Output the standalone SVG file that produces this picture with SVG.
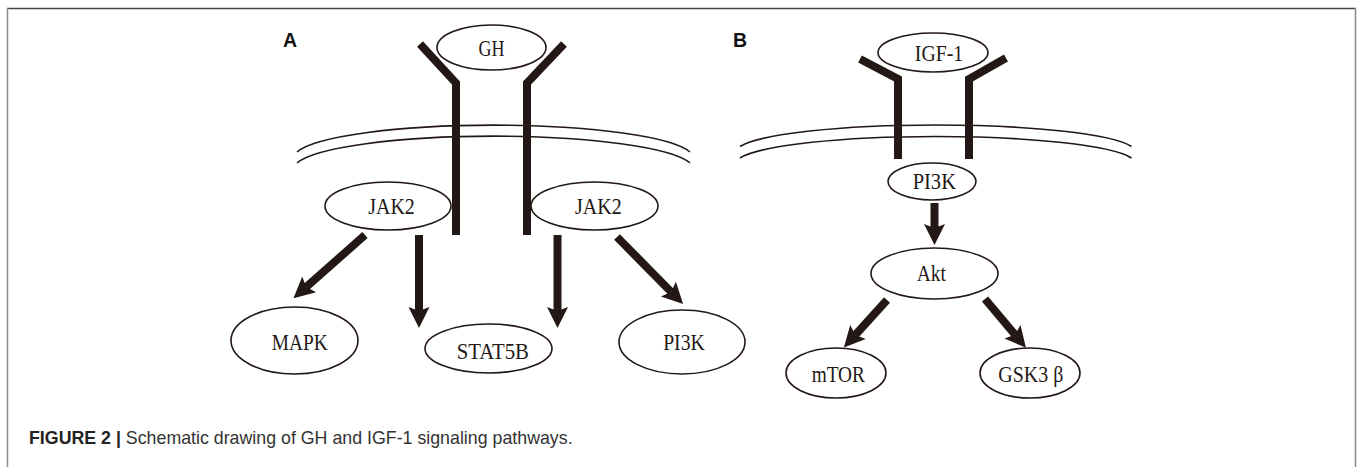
<svg xmlns="http://www.w3.org/2000/svg" width="1357" height="467" viewBox="0 0 1357 467">
<style>
.frame-top{stroke:#444;stroke-width:1.5;fill:none}
.frame-side{stroke:#8a8a8a;stroke-width:1.5;fill:none}
.mem{fill:none;stroke:#231815;stroke-width:1.6}
.rec{fill:none;stroke:#231815;stroke-width:8;stroke-linejoin:miter}
.node ellipse{fill:#fff;stroke:#231815;stroke-width:1.6}
.node text{font-family:"Liberation Serif","Times New Roman",serif;font-size:23.5px;fill:#231815;text-anchor:middle}
.arr{stroke:#231815;stroke-width:8;fill:none;marker-end:url(#ah)}
.panel{font-family:"Liberation Sans",Arial,sans-serif;font-weight:bold;font-size:19.5px;fill:#111}
.cap{font-family:"Liberation Sans",Arial,sans-serif;font-size:17.8px;fill:#333}
</style>
<defs>
<marker id="ah" markerUnits="userSpaceOnUse" markerWidth="26" markerHeight="26" viewBox="0 -13 26 26" refX="4" refY="0" orient="auto">
<path d="M0,-10.5 L21,0 L0,10.5 L4,0 Z" fill="#231815"/>
</marker>
</defs>
<rect x="0" y="0" width="1357" height="467" fill="#fff"/>
<line class="frame-top" x1="7" y1="8.5" x2="1356" y2="8.5"/>
<line class="frame-side" x1="7.5" y1="8" x2="7.5" y2="467"/>
<line class="frame-side" x1="1355.5" y1="8" x2="1355.5" y2="467"/>

<text class="panel" x="283" y="47">A</text>
<text class="panel" x="733" y="47">B</text>

<g id="membrane-A">
<path class="mem" d="M297,152 A200,33 0 0 1 690,152"/>
<path class="mem" d="M297,163 A200,33 0 0 1 690,163"/>
</g>
<g id="membrane-B">
<path class="mem" d="M740,146.5 A200,27 0 0 1 1131.5,146.5"/>
<path class="mem" d="M740,158 A200,27 0 0 1 1131.5,158"/>
</g>

<g id="receptor-GH">
<polyline class="rec" points="420,44 456,83 456,235"/>
<polyline class="rec" points="564,44 527,83 527,235"/>
</g>
<g id="receptor-IGF1">
<polyline class="rec" points="860,59 898,79 898,159"/>
<polyline class="rec" points="1006,58 969,79 969,159"/>
</g>

<g id="connectors">
<line class="arr" x1="365" y1="235" x2="306.2" y2="287.1"/>
<line class="arr" x1="419" y1="235" x2="419" y2="311"/>
<line class="arr" x1="557.5" y1="235" x2="557.5" y2="311"/>
<line class="arr" x1="617" y1="237" x2="671.2" y2="292"/>
<line class="arr" x1="934.5" y1="203" x2="934.5" y2="228"/>
<line class="arr" x1="887" y1="300" x2="855.3" y2="335"/>
<line class="arr" x1="985" y1="299" x2="1015" y2="334.7"/>
</g>

<g id="node-GH" class="node"><ellipse cx="491.5" cy="47.5" rx="54.5" ry="22.5"/><text x="491.5" y="55.5" textLength="26" lengthAdjust="spacingAndGlyphs">GH</text></g>
<g id="node-JAK2-left" class="node"><ellipse cx="388" cy="206" rx="63" ry="24"/><text x="391.5" y="213.5" textLength="46.7" lengthAdjust="spacingAndGlyphs">JAK2</text></g>
<g id="node-JAK2-right" class="node"><ellipse cx="594.5" cy="206" rx="63.5" ry="24"/><text x="598.3" y="213.5" textLength="46.7" lengthAdjust="spacingAndGlyphs">JAK2</text></g>
<g id="node-MAPK" class="node"><ellipse cx="294.5" cy="340.5" rx="63.5" ry="33.5"/><text x="299.7" y="349.5" textLength="56" lengthAdjust="spacingAndGlyphs">MAPK</text></g>
<g id="node-STAT5B" class="node"><ellipse cx="488.5" cy="348.5" rx="63.5" ry="24.5"/><text x="492.8" y="358.5" textLength="72.3" lengthAdjust="spacingAndGlyphs">STAT5B</text></g>
<g id="node-PI3K-A" class="node"><ellipse cx="682" cy="342" rx="63" ry="32"/><text x="684" y="349.5" textLength="41.7" lengthAdjust="spacingAndGlyphs">PI3K</text></g>

<g id="node-IGF1" class="node"><ellipse cx="933" cy="52.5" rx="55" ry="19.5"/><text x="939" y="60.5" textLength="48.3" lengthAdjust="spacingAndGlyphs">IGF-1</text></g>
<g id="node-PI3K-B" class="node"><ellipse cx="932" cy="181.5" rx="44" ry="18.5"/><text x="934.3" y="188.5" textLength="43.3" lengthAdjust="spacingAndGlyphs">PI3K</text></g>
<g id="node-Akt" class="node"><ellipse cx="934.5" cy="273.5" rx="63.5" ry="25.5"/><text x="931.3" y="280.5" textLength="29.3" lengthAdjust="spacingAndGlyphs">Akt</text></g>
<g id="node-mTOR" class="node"><ellipse cx="836" cy="373" rx="50" ry="25"/><text x="838.3" y="382" textLength="53.3" lengthAdjust="spacingAndGlyphs">mTOR</text></g>
<g id="node-GSK3b" class="node"><ellipse cx="1030" cy="373" rx="50" ry="25"/><text x="1030.8" y="382" textLength="65" lengthAdjust="spacingAndGlyphs">GSK3 β</text></g>

<text class="cap" x="29" y="444"><tspan font-weight="bold" fill="#222">FIGURE 2 |</tspan> Schematic drawing of GH and IGF-1 signaling pathways.</text>
</svg>
